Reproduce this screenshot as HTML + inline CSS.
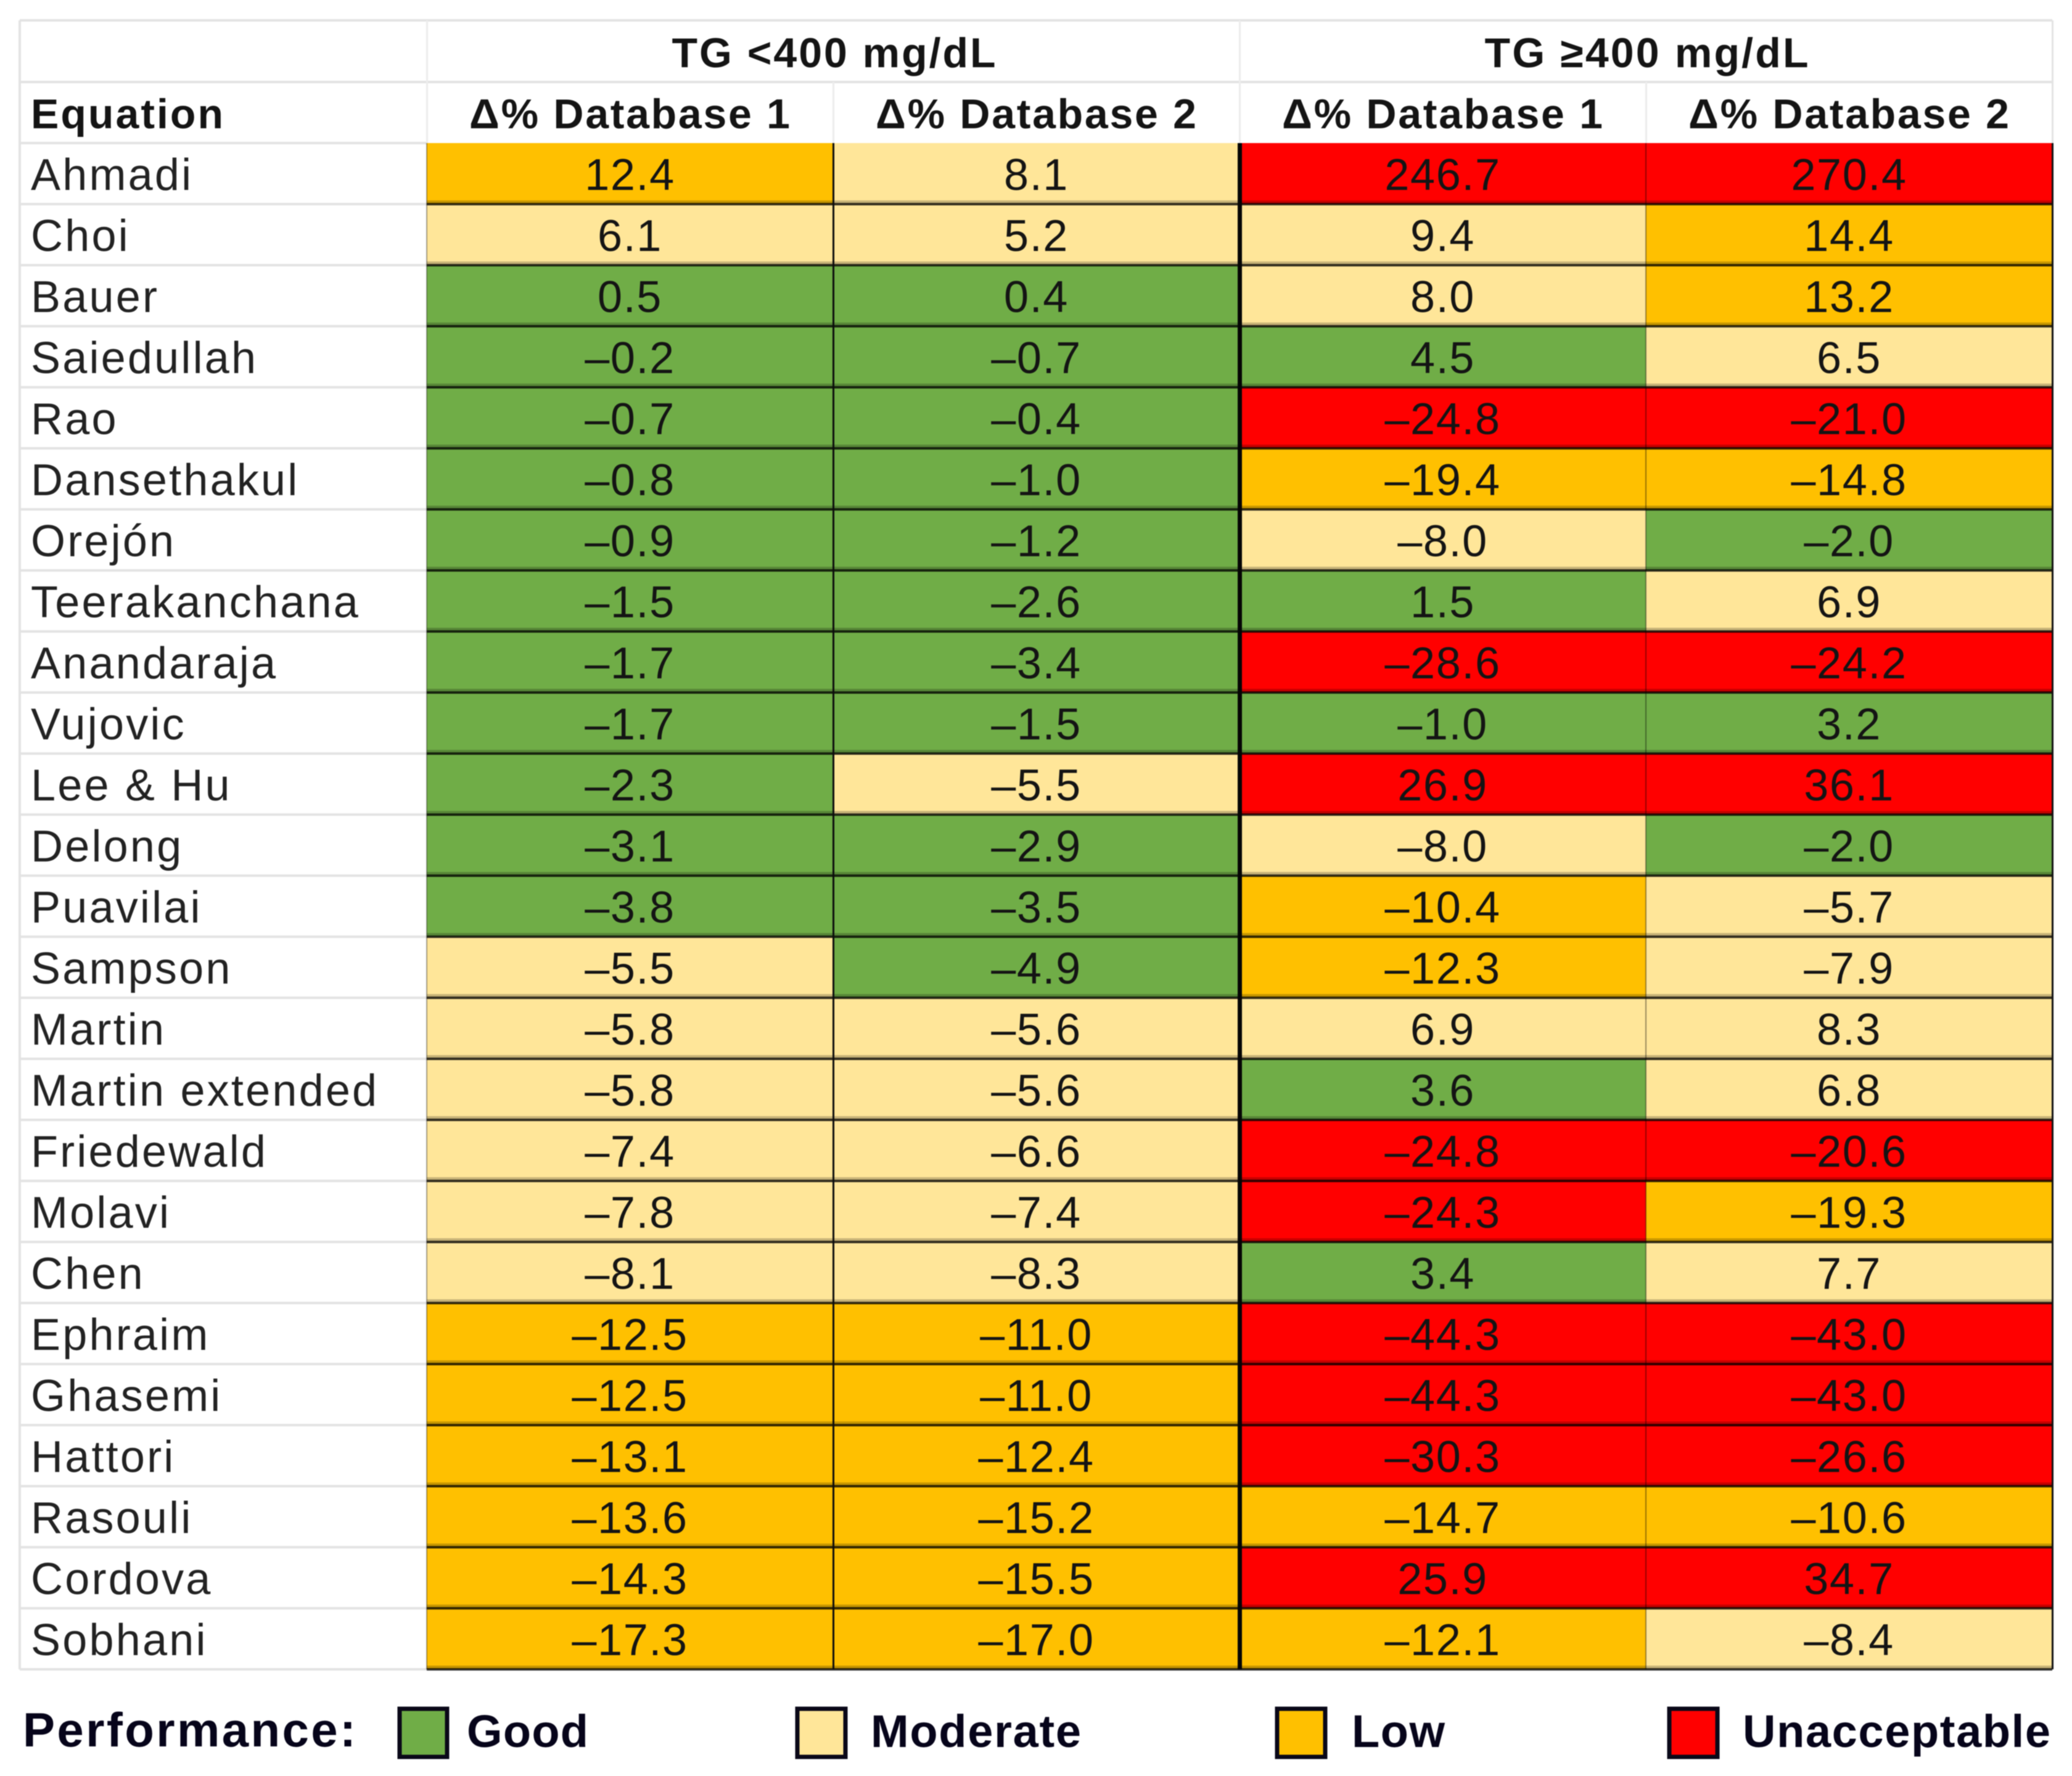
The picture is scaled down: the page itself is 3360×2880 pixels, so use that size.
<!DOCTYPE html>
<html lang="en">
<head>
<meta charset="utf-8">
<title>Equation performance table</title>
<style>
html,body{margin:0;padding:0;background:#fff;width:3360px;height:2880px;overflow:hidden}
svg{display:block;filter:blur(0.9px)}
text{font-family:"Liberation Sans",sans-serif;fill:#141414}
.lab{font-size:72px;letter-spacing:3.2px;fill:#222}
.val{font-size:72px;letter-spacing:1.6px;text-anchor:middle}
.hd{font-size:68px;font-weight:bold;letter-spacing:2px}
.ctr{text-anchor:middle}
.leg{font-size:74px;font-weight:bold;fill:#06041a}
</style>
</head>
<body>
<svg id="chart" xmlns="http://www.w3.org/2000/svg" width="3360" height="2880" viewBox="0 0 3360 2880">
  <rect x="0" y="0" width="3360" height="2880" fill="#fff"/>
  <g id="cells"></g>
  <g id="grid"></g>
  <g>
    <text class="hd ctr" x="1353" y="109" textLength="527" lengthAdjust="spacing">TG &lt;400 mg/dL</text>
    <text class="hd ctr" x="2671" y="109" textLength="527" lengthAdjust="spacing">TG ≥400 mg/dL</text>
    <text class="hd" x="50" y="208" textLength="314" lengthAdjust="spacing">Equation</text>
    <text class="hd ctr" x="1022" y="208" textLength="522" lengthAdjust="spacing">Δ% Database 1</text>
    <text class="hd ctr" x="1681" y="208" textLength="522" lengthAdjust="spacing">Δ% Database 2</text>
    <text class="hd ctr" x="2340" y="208" textLength="522" lengthAdjust="spacing">Δ% Database 1</text>
    <text class="hd ctr" x="2999" y="208" textLength="522" lengthAdjust="spacing">Δ% Database 2</text>
  </g>
  <g>
    <text class="leg" style="font-size:78px" x="37" y="2832" textLength="540" lengthAdjust="spacing">Performance:</text>
    <g>
      <rect x="648" y="2771" width="77" height="78" fill="#70ad47" stroke="#0a0818" stroke-width="7"/>
      <text class="leg" x="757" y="2833" textLength="197" lengthAdjust="spacing">Good</text>
    </g>
    <g>
      <rect x="1293" y="2771" width="78" height="78" fill="#ffe699" stroke="#0a0818" stroke-width="7"/>
      <text class="leg" x="1412" y="2833" textLength="341" lengthAdjust="spacing">Moderate</text>
    </g>
    <g>
      <rect x="2071" y="2771" width="78" height="78" fill="#ffc000" stroke="#0a0818" stroke-width="7"/>
      <text class="leg" x="2192" y="2833" textLength="151" lengthAdjust="spacing">Low</text>
    </g>
    <g>
      <rect x="2707" y="2771" width="78" height="78" fill="#ff0000" stroke="#0a0818" stroke-width="7"/>
      <text class="leg" x="2826" y="2833" textLength="499" lengthAdjust="spacing">Unacceptable</text>
    </g>
  </g>
</svg>
<script>
const equations = ["Ahmadi","Choi","Bauer","Saiedullah","Rao","Dansethakul","Orejón","Teerakanchana","Anandaraja","Vujovic","Lee & Hu","Delong","Puavilai","Sampson","Martin","Martin extended","Friedewald","Molavi","Chen","Ephraim","Ghasemi","Hattori","Rasouli","Cordova","Sobhani"];
const lowTgDatabase1 = [12.4,6.1,0.5,-0.2,-0.7,-0.8,-0.9,-1.5,-1.7,-1.7,-2.3,-3.1,-3.8,-5.5,-5.8,-5.8,-7.4,-7.8,-8.1,-12.5,-12.5,-13.1,-13.6,-14.3,-17.3];
const lowTgDatabase2 = [8.1,5.2,0.4,-0.7,-0.4,-1.0,-1.2,-2.6,-3.4,-1.5,-5.5,-2.9,-3.5,-4.9,-5.6,-5.6,-6.6,-7.4,-8.3,-11.0,-11.0,-12.4,-15.2,-15.5,-17.0];
const highTgDatabase1 = [246.7,9.4,8.0,4.5,-24.8,-19.4,-8.0,1.5,-28.6,-1.0,26.9,-8.0,-10.4,-12.3,6.9,3.6,-24.8,-24.3,3.4,-44.3,-44.3,-30.3,-14.7,25.9,-12.1];
const highTgDatabase2 = [270.4,14.4,13.2,6.5,-21.0,-14.8,-2.0,6.9,-24.2,3.2,36.1,-2.0,-5.7,-7.9,8.3,6.8,-20.6,-19.3,7.7,-43.0,-43.0,-26.6,-10.6,34.7,-8.4];
const columnSeries = [lowTgDatabase1, lowTgDatabase2, highTgDatabase1, highTgDatabase2];
const columnKeys = ["low-tg-db1","low-tg-db2","high-tg-db1","high-tg-db2"];
const performanceLimits = [5, 10, 20];
const performanceColors = ["#70ad47","#ffe699","#ffc000","#ff0000"];

const NS = "http://www.w3.org/2000/svg";
const tableLeft = 32, tableRight = 3328, tableTop = 33;
const bodyLeft = 692, bodyTop = 232, rowHeight = 99, colWidth = 659;

function xCol(i) { return bodyLeft + i * colWidth; }
function yRow(i) { return bodyTop + i * rowHeight; }
function colorFor(v) {
  const a = Math.abs(v);
  for (let k = 0; k < performanceLimits.length; k++) {
    if (a < performanceLimits[k]) return performanceColors[k];
  }
  return performanceColors[performanceColors.length - 1];
}
function fmt(v) { return v.toFixed(1).replace("-", "\u2013"); }
function make(parent, tag, attrs) {
  const el = document.createElementNS(NS, tag);
  for (const k in attrs) el.setAttribute(k, attrs[k]);
  parent.appendChild(el);
  return el;
}

const cells = document.getElementById("cells");
const grid = document.getElementById("grid");

equations.forEach(function (name, r) {
  const label = make(cells, "text", { class: "lab", x: 50, y: yRow(r) + 76 });
  
  
  label.textContent = name;
  columnSeries.forEach(function (series, c) {
    const rect = make(cells, "rect", { x: xCol(c), y: yRow(r), width: colWidth, height: rowHeight, fill: colorFor(series[r]) });
    
    
    const txt = make(cells, "text", { class: "val", x: xCol(c) + colWidth / 2, y: yRow(r) + 76 });
    
    
    txt.textContent = fmt(series[r]);
  });
});

const rowCount = equations.length;
const tableBottom = yRow(rowCount);

// light grey frame and label column rules
[tableTop, 133].forEach(function (y) {
  const line = make(grid, "rect", { x: tableLeft, y: y - 2, width: tableRight - tableLeft, height: 4, fill: "#e3e3e3" });
  
  
});
for (let r = 0; r <= rowCount; r++) {
  const line = make(grid, "rect", { x: tableLeft, y: yRow(r) - 2, width: bodyLeft - tableLeft, height: 4, fill: "#e3e3e3" });
  
  
}
const frameLeft = make(grid, "rect", { x: tableLeft - 2, y: tableTop, width: 4, height: tableBottom - tableTop, fill: "#e3e3e3" });


const frameRight = make(grid, "rect", { x: tableRight - 1, y: tableTop, width: 3, height: bodyTop - tableTop, fill: "#e3e3e3" });


[0, 2].forEach(function (c) {
  const line = make(grid, "rect", { x: xCol(c) - 1, y: tableTop, width: 3, height: bodyTop - tableTop, fill: "#ececec" });
  
  
});
[1, 3].forEach(function (c) {
  const line = make(grid, "rect", { x: xCol(c) - 1, y: 133, width: 3, height: bodyTop - 133, fill: "#ececec" });
  
  
});

// dark rules inside the coloured body
for (let r = 1; r <= rowCount; r++) {
  const shade = make(grid, "rect", { x: bodyLeft, y: yRow(r) - 6, width: tableRight - bodyLeft, height: 4, fill: "rgba(0,0,0,0.22)" });
  
  
  const line = make(grid, "rect", { x: bodyLeft, y: yRow(r) - 2, width: tableRight - bodyLeft, height: 4, fill: "rgba(0,0,0,0.8)" });
  
  
}
const divLow = make(grid, "rect", { x: xCol(1) - 1, y: bodyTop, width: 3, height: tableBottom - bodyTop, fill: "#0c0c0c" });


const divMain = make(grid, "rect", { x: xCol(2) - 3, y: bodyTop, width: 7, height: tableBottom - bodyTop, fill: "#050505" });


const divHigh = make(grid, "rect", { x: xCol(3) - 1, y: bodyTop, width: 2, height: tableBottom - bodyTop, fill: "rgba(0,0,0,0.4)" });


const edgeRight = make(grid, "rect", { x: tableRight - 1, y: bodyTop, width: 3, height: tableBottom - bodyTop, fill: "#111" });


const edgeLeft = make(grid, "rect", { x: bodyLeft - 1, y: bodyTop, width: 2, height: tableBottom - bodyTop, fill: "rgba(0,0,0,0.35)" });


</script>
</body>
</html>
